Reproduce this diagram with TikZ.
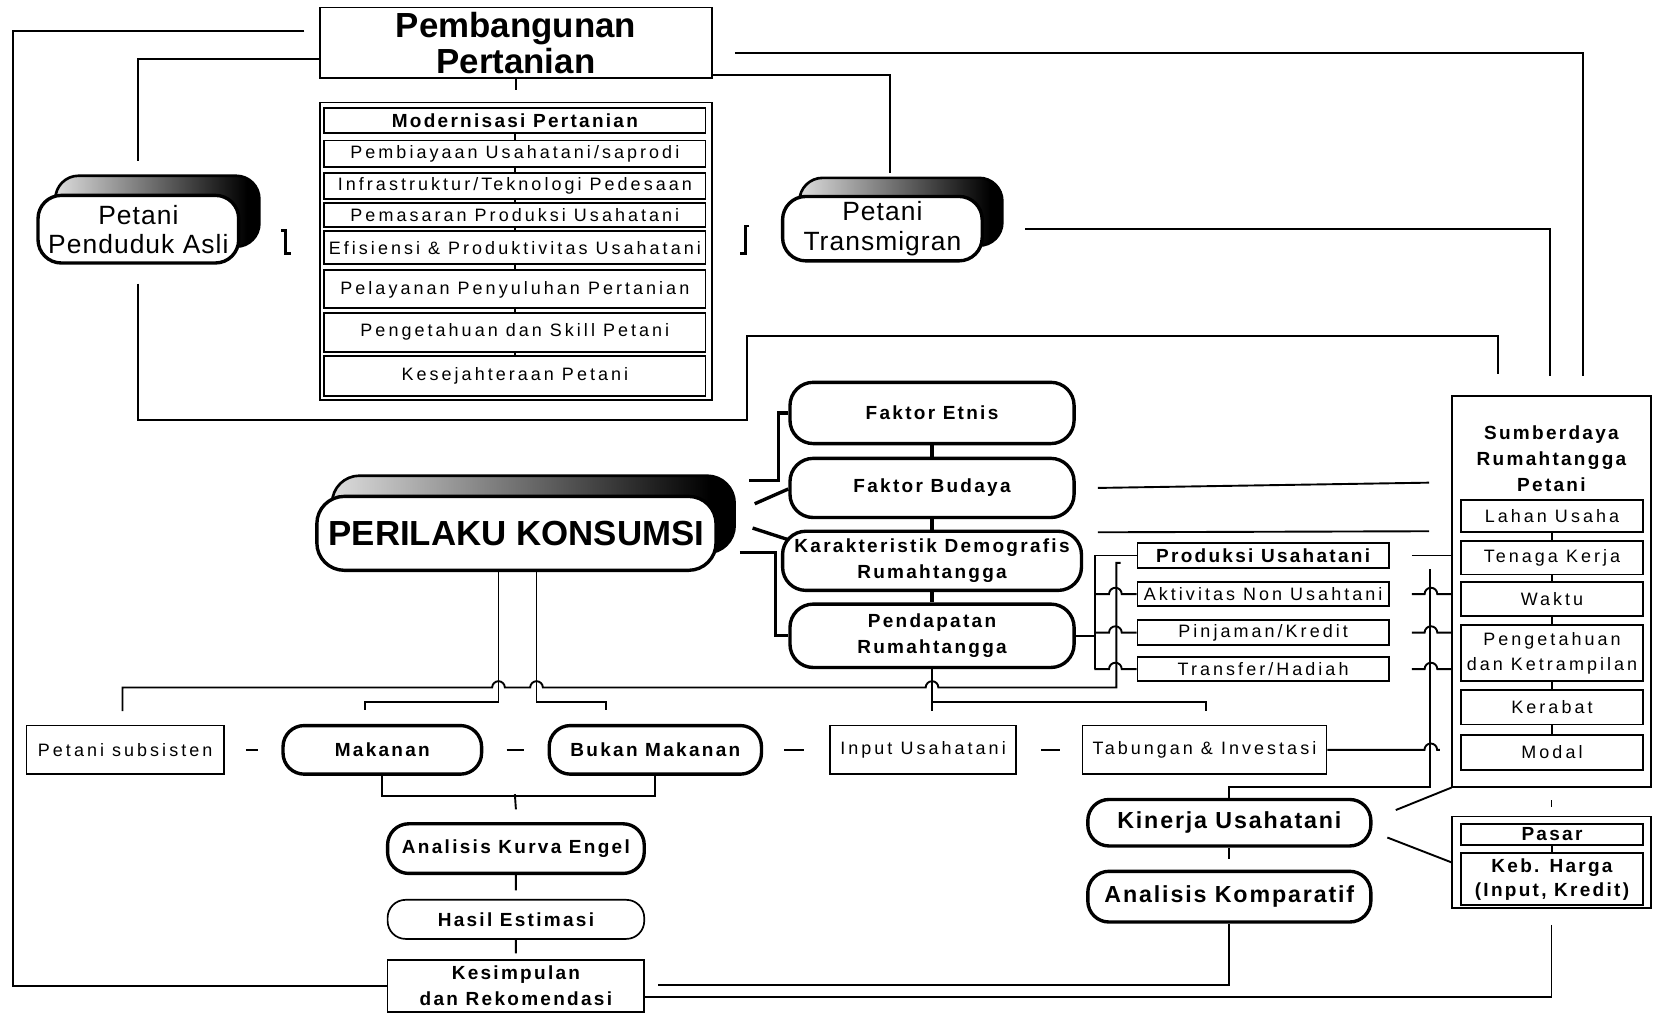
\documentclass[tikz,border=0pt]{standalone}
\usepackage{fontspec}
\setmainfont{Liberation Sans}
\newfontfamily\rgfont[LetterSpace=17]{Liberation Sans}
\newfontfamily\bdfont[LetterSpace=12]{Liberation Sans}
\newfontfamily\bdbigfont[LetterSpace=8]{Liberation Sans}
\newfontfamily\petfont[LetterSpace=4]{Liberation Sans}
\usetikzlibrary{calc,backgrounds}

% metallic shading of the raised back plates
\pgfdeclarehorizontalshading{metal}{100bp}{color(0bp)=(black!70); color(22bp)=(black!8); color(72bp)=(black); color(100bp)=(black)}

\tikzset{
  every node/.style={inner sep=0pt, align=center},
  plainbox/.style={draw, line width=1.5pt, rectangle, fill=white},
  itembox/.style={draw, line width=1.8pt, rectangle, fill=white},
  pill/.style={draw, line width=3.2pt, rounded corners=20pt, fill=white},
  softpill/.style={draw, line width=1.6pt, rounded corners=17pt, fill=white},
  link/.style={line width=1.8pt},
  heavy/.style={line width=3.2pt},
  rgtxt/.style={font=\rgfont\fontsize{17}{23}\selectfont},
  bdtxt/.style={font=\bdfont\bfseries\fontsize{18}{24.5}\selectfont},
  bigbd/.style={font=\bdbigfont\bfseries\fontsize{22}{26}\selectfont},
  pettxt/.style={font=\petfont\fontsize{25}{27.5}\selectfont},
  plate/.style={draw, line width=2.5pt, rounded corners=22pt, shading=metal},
}

\begin{document}
\begin{tikzpicture}[x=1pt,y=-1pt]
\useasboundingbox (0,0) rectangle (1568,959);

% ---------- top block ----------
\node[plainbox, minimum width=371pt, minimum height=67pt,
      font=\bfseries\fontsize{33}{34}\selectfont] (pemb) at (488.5,40.5) {Pembangunan\\Pertanian};

\node[plainbox, minimum width=371pt, minimum height=282pt] (modout) at (488.5,238) {};
\node[itembox, bdtxt, minimum width=361pt, minimum height=24pt] (m1) at (487.5,114) {Modernisasi Pertanian};
\node[itembox, rgtxt, minimum width=361pt, minimum height=25pt] (m2) at (487.5,145.5) {Pembiayaan Usahatani/saprodi};
\node[itembox, rgtxt, minimum width=361pt, minimum height=24pt] (m3) at (487.5,176) {Infrastruktur/Teknologi Pedesaan};
\node[itembox, rgtxt, minimum width=361pt, minimum height=23pt] (m4) at (487.5,203.5) {Pemasaran Produksi Usahatani};
\node[itembox, rgtxt, minimum width=361pt, minimum height=31pt] (m5) at (487.5,234.5) {Efisiensi \& Produktivitas Usahatani};
\node[itembox, rgtxt, minimum width=361pt, minimum height=36pt] (m6) at (487.5,274) {Pelayanan Penyuluhan Pertanian};
\node[itembox, rgtxt, minimum width=361pt, minimum height=37pt] (m7) at (487.5,314.5) {Pengetahuan dan Skill Petani};
\node[itembox, rgtxt, minimum width=361pt, minimum height=38pt] (m8) at (487.5,356) {Kesejahteraan Petani};
\foreach \a/\b in {m1/m2,m2/m3,m3/m4,m4/m5,m5/m6,m6/m7,m7/m8}
  \draw[line width=1.2pt] (\a.south) -- (\b.north);
\draw[link] (pemb.south) -- ($(pemb.south)!0.5!(modout.north)$);

% farmer groups with raised plates
\node[pill, rounded corners=22pt, minimum width=190pt, minimum height=64pt, pettxt] (ppa) at (131,217) {Petani\\Penduduk Asli};
\node[pill, rounded corners=22pt, minimum width=189pt, minimum height=61pt, pettxt] (pt) at (835.5,216.5) {Petani\\Transmigran};

% small elbows beside the list
\draw[line width=2.6pt] (266.5,218.5) -- (270,218.5) -- (270,240) -- (276,240);
\draw[line width=2.6pt] (709.5,214) -- (706,214) -- (706,240) -- (701,240);

% ---------- consumption behaviour ----------
\node[pill, rounded corners=26pt, minimum width=378pt, minimum height=70pt,
      font=\bfseries\fontsize{33}{36}\selectfont] (perilaku) at (489,505) {PERILAKU KONSUMSI};

\node[pill, rounded corners=22pt, bdtxt, minimum width=269pt, minimum height=58pt] (fe) at (882.5,391) {Faktor Etnis};
\node[pill, rounded corners=22pt, bdtxt, minimum width=269pt, minimum height=56pt] (fb) at (882.5,462) {Faktor Budaya};
\node[pill, rounded corners=22pt, bdtxt, minimum width=283pt, minimum height=56pt] (kd) at (882.5,531) {Karakteristik Demografis\\Rumahtangga};
\node[pill, rounded corners=22pt, bdtxt, minimum width=269pt, minimum height=60pt] (pr) at (882.5,602) {Pendapatan\\Rumahtangga};
\draw[heavy] (fe.south) -- (fb.north);
\draw[heavy] (fb.south) -- (kd.north);
\draw[heavy] (kd.south) -- (pr.north);

% household income sources
\node[itembox, bdtxt, minimum width=238pt, minimum height=24pt] (pu) at (1196,526) {Produksi Usahatani};
\node[itembox, rgtxt, minimum width=238pt, minimum height=23pt] (an) at (1196,562.5) {Aktivitas Non Usahtani};
\node[itembox, rgtxt, minimum width=238pt, minimum height=24pt] (pk) at (1196,599) {Pinjaman/Kredit};
\node[itembox, rgtxt, minimum width=238pt, minimum height=23pt] (th) at (1196,633.5) {Transfer/Hadiah};

% household resources
\node[plainbox, minimum width=188pt, minimum height=370pt] (smb) at (1469,560) {};
\node[bdtxt] (smbt) at (1469,434) {Sumberdaya\\Rumahtangga\\Petani};
\node[itembox, rgtxt, minimum width=173pt, minimum height=31pt] (lu) at (1469.5,488.5) {Lahan Usaha};
\node[itembox, rgtxt, minimum width=173pt, minimum height=32pt] (tk) at (1469.5,528) {Tenaga Kerja};
\node[itembox, rgtxt, minimum width=173pt, minimum height=32pt] (wk) at (1469.5,567) {Waktu};
\node[itembox, rgtxt, minimum width=173pt, minimum height=53pt] (pg) at (1469.5,618.5) {Pengetahuan\\dan Ketrampilan};
\node[itembox, rgtxt, minimum width=173pt, minimum height=33pt] (kb) at (1469.5,669.5) {Kerabat};
\node[itembox, rgtxt, minimum width=173pt, minimum height=33pt] (md) at (1469.5,712.5) {Modal};
\foreach \a/\b in {lu/tk,tk/wk,wk/pg,pg/kb,kb/md}
  \draw[line width=1.2pt] (\a.south) -- (\b.north);

% market
\node[plainbox, minimum width=188pt, minimum height=87pt] (pasar) at (1469,816.5) {};
\node[itembox, bdtxt, minimum width=173pt, minimum height=20pt] (ps) at (1469.5,790) {Pasar};
\node[itembox, bdtxt, minimum width=173pt, minimum height=49pt, font=\bdfont\bfseries\fontsize{18}{23}\selectfont] (kh) at (1469.5,832.5) {Keb. Harga\\(Input, Kredit)};
\draw[line width=1.2pt] (ps.south) -- (kh.north);
\draw[line width=1pt] ($(smb.south)+(0,12)$) -- ($(pasar.north)+(0,-8)$);

% ---------- expenditure row ----------
\node[plainbox, rgtxt, minimum width=187pt, minimum height=46pt] (ps2) at (118.5,710) {Petani subsisten};
\node[pill, bdtxt, minimum width=188pt, minimum height=46pt] (mk) at (362,710) {Makanan};
\node[pill, bdtxt, minimum width=201pt, minimum height=46pt] (bm) at (620.5,710) {Bukan Makanan};
\node[plainbox, rgtxt, minimum width=176pt, minimum height=46pt] (iu) at (874,710) {Input Usahatani};
\node[plainbox, rgtxt, minimum width=231pt, minimum height=46pt] (ti) at (1140.5,710) {Tabungan \& Investasi};
\draw[link, shorten <=20pt, shorten >=22pt] (ps2) -- (mk);
\draw[link, shorten <=22pt, shorten >=22pt] (mk) -- (bm);
\draw[link, shorten <=20pt, shorten >=24pt] (bm) -- (iu);
\draw[link, shorten <=23pt, shorten >=21pt] (iu) -- (ti);

% ---------- analysis chain ----------
\node[pill, bdtxt, minimum width=243pt, minimum height=47pt] (ake) at (488.5,803.5) {Analisis Kurva Engel};
\node[softpill, bdtxt, minimum width=243pt, minimum height=37pt] (hes) at (488.5,870.5) {Hasil Estimasi};
\node[plainbox, bdtxt, minimum width=243pt, minimum height=49pt] (kes) at (488.5,933.5) {Kesimpulan\\dan Rekomendasi};

\node[pill, bigbd, minimum width=268pt, minimum height=44pt] (kin) at (1164,779) {Kinerja Usahatani};
\node[pill, bigbd, minimum width=268pt, minimum height=48pt] (kom) at (1164,849) {Analisis Komparatif};

% raised plates behind the main ovals
\begin{scope}[on background layer]
  \shade[plate] ($(ppa.south west)+(18,-17)$) rectangle ($(ppa.north east)+(18,-17)$);
  \shade[plate] ($(pt.south west)+(17.5,-16)$) rectangle ($(pt.north east)+(17.5,-16)$);
  \shade[plate, rounded corners=26pt] ($(perilaku.south west)+(16,-18)$) rectangle ($(perilaku.north east)+(16,-18)$);
\end{scope}

% ---------- connectors: top frame ----------
\draw[link] ($(pemb.west)+(-14,-11.5)$) -- (12,29) |- (kes.west);
\draw[link] ($(pemb.west)+(0,15.5)$) -| ($(ppa.north)+(0,-31)$);
\draw[link] ($(pemb.east)+(0,30.5)$) -| ($(pt.north)+(7.5,-21)$);
\draw[link] ($(pemb.east)+(21,9.5)$) -- (1499,50) -- ($(smb.north)+(30,-18)$);
\draw[link] ($(ppa.south)+(0,18)$) -- (131,398) -- (707,398) -- (707,318) -- (1418,318) -- ($(smb.north)+(-51,-20)$);
\draw[link] ($(pt.east)+(39,0)$) -- (1468,216.5) -- ($(smb.north)+(-1,-18)$);

% ---------- connectors: consumption behaviour factors ----------
\draw[heavy] ($(perilaku.east)+(30,-50)$) -- (737,455) |- (fe.west);
\draw[heavy] ($(perilaku.east)+(35,-28)$) -- ($(fb.west)+(0,1)$);
\draw[heavy] ($(perilaku.east)+(33,-5)$) -- ($(kd.west)+(7,-20)$);
\draw[heavy] ($(perilaku.east)+(21,18)$) -- (734,523) |- (pr.west);

\draw[link] ($(fb.east)+(21,0)$) -- ($(smb.west)+(-21,-103)$);
\draw[link] ($(kd.east)+(14,-27)$) -- ($(smb.west)+(-21,-57)$);

% income sources bracket
\draw[link] (pr.east) -- (1037,602);
\draw[link] (pu.west) -- (1037,526) -- (1037,633.5);
\foreach \n in {an,pk,th}
  \draw[link] ($(\n.west)+(-40,0)$) -- ($(\n.west)+(-26,0)$)
     arc[start angle=180, end angle=0, radius=6pt] -- (\n.west);
\draw[link] ($(pu.east)+(21,0)$) -- (smb.west |- pu.east);
\foreach \n in {an,pk,th}
  \draw[link] ($(\n.east)+(21,0)$) -- ($(\n.east)+(33,0)$)
     arc[start angle=180, end angle=0, radius=6pt] -- (smb.west |- \n.east);
\draw[link] (ti.east) -- ($(ti.east)+(92,0)$)
   arc[start angle=180, end angle=0, radius=6pt] -- ($(smb.west |- ti.east)+(-11,0)$);
\draw[link] (kin.north) |- (1354,745) -- (1354,539);

% long distribution line to the expenditure row
\draw[link] ($(ps2.north)+(-2.5,-13)$) -- (116,651) -- (466,651)
   arc[start angle=180, end angle=0, radius=6pt] -- (502,651)
   arc[start angle=180, end angle=0, radius=6pt] -- (876.5,651)
   arc[start angle=180, end angle=0, radius=6pt] -- (1057,651) -- (1057,533) -- (1061,533);

\draw[link] ($(perilaku.south)+(-17,0)$) -- (472,665) -| ($(mk.north)+(-16,-13)$);
\draw[link] ($(perilaku.south)+(19,0)$) -- (508,665) -| ($(bm.north)+(-46.5,-13)$);
\draw[link] (pr.south) -- ($(iu.north)+(8.5,-13)$);
\draw[link] (882.5,665) -| ($(ti.north)+(1.5,-13)$);

% analysis chain
\draw[link] (mk.south) -- ++(0,19) -| (bm.south);
\draw[link] (487.5,752) -- ($(ake.north)+(0,-12)$);
\draw[link] (ake.south) -- ($(ake.south)!0.64!(hes.north)$);
\draw[link] (hes.south) -- ($(hes.south)!0.7!(kes.north)$);

\draw[link] (kin.south) -- ($(kin.south)!0.5!(kom.north)$);
\draw[link] ($(kin.east)+(22,-12)$) -- (smb.south west);
\draw[link] ($(kin.east)+(14,14)$) -- (pasar.west);
\draw[link] (kom.south) |- ($(kes.east)+(12,-0.5)$);
\draw[link] ($(pasar.south)+(0,15)$) |- ($(kes.east)+(0,10.5)$);

\end{tikzpicture}
\end{document}
